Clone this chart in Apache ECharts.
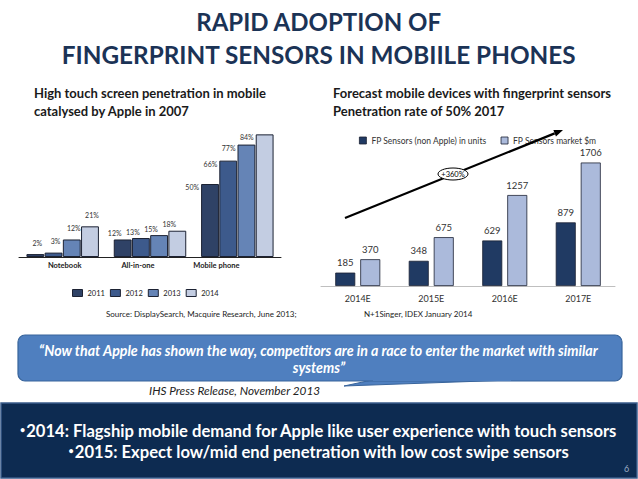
<!DOCTYPE html>
<html>
<head>
<meta charset="utf-8">
<script src="https://cdn.jsdelivr.net/npm/echarts@6/dist/echarts.min.js"></script>
<style>
html,body{margin:0;padding:0;background:#fff;}
#main{width:638px;height:479px;}
</style>
</head>
<body>
<div id="main"></div>
<script>
// ---- Left chart data (touch screen penetration, %) ----
const leftCategories = ['Notebook', 'All-in-one', 'Mobile phone'];
const leftYears = ['2011', '2012', '2013', '2014'];
const pen2011 = [2, 12, 50];
const pen2012 = [3, 13, 66];
const pen2013 = [12, 15, 77];
const pen2014 = [21, 18, 84];

// ---- Right chart data ----
const rightCategories = ['2014E', '2015E', '2016E', '2017E'];
const fpUnitsName = 'FP Sensors (non Apple) in units';
const fpMarketName = 'FP Sensors market $m';
const fpUnits = [185, 348, 629, 879];
const fpMarket = [370, 675, 1257, 1706];

const FONT = 'Lato, "Open Sans", sans-serif';
const leftColors = ['#2f4266', '#3d5a8c', '#6584b6', '#c3cde2'];
const leftValues = [pen2011, pen2012, pen2013, pen2014];

// label placement per category (styling only)
const leftLabelStyle = [
  { position: 'top', offset: [2, -3] },
  { position: 'top', offset: [-8, 2] },
  { position: [-2, 3], align: 'right', verticalAlign: 'middle' }
];

const leftSeries = leftYears.map((yr, si) => ({
  name: yr,
  type: 'bar',
  xAxisIndex: 0,
  yAxisIndex: 0,
  barGap: '2%',
  barCategoryGap: '17%',
  itemStyle: { color: leftColors[si], borderColor: '#1c2233', borderWidth: 1 },
  data: leftValues[si].map((v, ci) => ({
    value: v,
    label: Object.assign({ show: true, formatter: '{c}%', fontSize: 7, color: '#333', fontFamily: FONT }, leftLabelStyle[ci])
  }))
}));

const rightSeries = [
  { name: fpUnitsName, data: fpUnits, color: '#203a63' },
  { name: fpMarketName, data: fpMarket, color: '#abbadb' }
].map(s => ({
  name: s.name,
  type: 'bar',
  xAxisIndex: 1,
  yAxisIndex: 1,
  barWidth: 20,
  barGap: '25%',
  itemStyle: { color: s.color, borderColor: '#1c2233', borderWidth: 0.8 },
  label: { show: true, position: 'top', distance: 5, fontSize: 9.5, color: '#333', fontFamily: FONT },
  data: s.data
}));

// arrow annotation geometry
const aStart = [345, 218], aEnd = [563, 130];
const dx = aEnd[0] - aStart[0], dy = aEnd[1] - aStart[1];
const len = Math.sqrt(dx * dx + dy * dy);
const ux = dx / len, uy = dy / len, px = -uy, py = ux;
const hb = [aEnd[0] - 9 * ux, aEnd[1] - 9 * uy];
const head = [aEnd, [hb[0] + 3.5 * px, hb[1] + 3.5 * py], [hb[0] - 3.5 * px, hb[1] - 3.5 * py]];

const bulletRich = {
  d: { fontSize: 9, fontWeight: 'bold', fill: '#fff', fontFamily: FONT, verticalAlign: 'middle', padding: [0, 1, 2, 0] },
  t: { fontSize: 16.6, fontWeight: 'bold', fill: '#fff', fontFamily: FONT }
};

const chart = echarts.init(document.getElementById('main'), null, { renderer: 'svg', width: 638, height: 479 });

const option = {
  backgroundColor: '#ffffff',
  animation: false,
  textStyle: { fontFamily: FONT },
  grid: [
    { left: 19, top: 111, width: 262, height: 146 },
    { left: 321, top: 134, width: 294, height: 152 }
  ],
  xAxis: [
    {
      type: 'category', gridIndex: 0, data: leftCategories,
      axisLine: { lineStyle: { color: '#222', width: 1 } },
      axisTick: { show: false },
      axisLabel: {
        margin: 4, fontSize: 7.5, fontWeight: 'bold', color: '#222', fontFamily: FONT,
        formatter: (v, i) => ['{a|', '{b|', '{c|'][i] + v + '}',
        rich: {
          a: { fontSize: 7.5, fontWeight: 'bold', color: '#222', padding: [0, 0, 0, 4] },
          b: { fontSize: 7.5, fontWeight: 'bold', color: '#222', padding: [0, 24, 0, 0] },
          c: { fontSize: 7.5, fontWeight: 'bold', color: '#222', padding: [0, 42, 0, 0] }
        }
      }
    },
    {
      type: 'category', gridIndex: 1, data: rightCategories,
      axisLine: { lineStyle: { color: '#bfbfbf', width: 1 } },
      axisTick: { show: false },
      axisLabel: { margin: 8, fontSize: 9, color: '#333', fontFamily: FONT }
    }
  ],
  yAxis: [
    { type: 'value', gridIndex: 0, min: 0, max: 100, show: false },
    { type: 'value', gridIndex: 1, min: 0, max: 2100, show: false }
  ],
  legend: [
    {
      data: leftYears, left: 67, top: 284, itemWidth: 10, itemHeight: 7, itemGap: 5,
      icon: 'rect', textStyle: { fontSize: 7.5, color: '#222', fontFamily: FONT },
      itemStyle: { borderColor: '#1c2233', borderWidth: 1 }
    },
    {
      data: [fpUnitsName, fpMarketName], left: 354, top: 131, itemWidth: 7, itemHeight: 7, itemGap: 14,
      icon: 'rect', textStyle: { fontSize: 8.5, color: '#333', fontFamily: FONT },
      itemStyle: { borderColor: '#1c2233', borderWidth: 0.8 }
    }
  ],
  series: leftSeries.concat(rightSeries),
  graphic: [
    // Titles
    { type: 'text', left: 'center', top: 9, style: { text: 'RAPID ADOPTION OF', fontSize: 24, fontWeight: 'bold', fill: '#1b3356', fontFamily: FONT } },
    { type: 'text', left: 'center', top: 42, style: { text: 'FINGERPRINT SENSORS IN MOBIILE PHONES', fontSize: 24.3, fontWeight: 'bold', fill: '#1b3356', fontFamily: FONT } },
    // Subtitles
    { type: 'text', x: 34, y: 84, style: { text: 'High touch screen penetration in mobile\ncatalysed by Apple in 2007', fontSize: 13, lineHeight: 18, fontWeight: 'bold', fill: '#1a1a1a', fontFamily: FONT } },
    { type: 'text', x: 333, y: 84, style: { text: 'Forecast mobile devices with fingerprint sensors\nPenetration rate of 50% 2017', fontSize: 13, lineHeight: 18, fontWeight: 'bold', fill: '#1a1a1a', fontFamily: FONT } },
    // arrow annotation
    { type: 'line', shape: { x1: aStart[0], y1: aStart[1], x2: hb[0], y2: hb[1] }, style: { stroke: '#000', lineWidth: 2.2 }, z: 100 },
    { type: 'polygon', shape: { points: head }, style: { fill: '#000' }, z: 100 },
    { type: 'ellipse', shape: { cx: 453, cy: 174, rx: 15, ry: 6 }, style: { fill: '#fff', stroke: '#000', lineWidth: 1 }, z: 101 },
    { type: 'text', x: 453, y: 174, style: { text: '+360%', fontSize: 7.5, fill: '#000', align: 'center', verticalAlign: 'middle', fontFamily: FONT }, z: 102 },
    // sources
    { type: 'text', x: 106, y: 310, style: { text: 'Source: DisplaySearch, Macquire Research, June 2013;', fontSize: 8, fill: '#222', fontFamily: FONT } },
    { type: 'text', x: 364, y: 310, style: { text: 'N+1Singer, IDEX January 2014', fontSize: 8, fill: '#222', fontFamily: FONT } },
    // callout
    { type: 'polygon', shape: { points: [[372, 380], [344, 386], [512, 380]] }, style: { fill: '#4f7fbf', stroke: '#38649b', lineWidth: 1 } },
    { type: 'rect', shape: { x: 18, y: 335, width: 604, height: 46, r: 7 }, style: { fill: '#4f7fbf', stroke: '#38649b', lineWidth: 1.2 } },
    { type: 'rect', shape: { x: 373, y: 379, width: 138, height: 2 }, style: { fill: '#4f7fbf' } },
    { type: 'text', left: 'center', top: 343, style: { text: '\u201cNow that Apple has shown the way, competitors are in a race to enter the market with similar', fontSize: 14.2, fontWeight: 'bold', fontStyle: 'italic', fill: '#fff', fontFamily: FONT } },
    { type: 'text', left: 'center', top: 360, style: { text: 'systems\u201d', fontSize: 14.2, fontWeight: 'bold', fontStyle: 'italic', fill: '#fff', fontFamily: FONT } },
    { type: 'text', x: 149, y: 384, style: { text: 'IHS Press Release, November 2013', fontSize: 11.8, fontStyle: 'italic', fill: '#222', fontFamily: FONT } },
    // bottom banner
    { type: 'rect', shape: { x: 1, y: 403, width: 636, height: 75 }, style: { fill: '#0d2b51', stroke: '#3a5c8a', lineWidth: 1.5 } },
    { type: 'text', left: 'center', top: 422, style: { text: '{d|\u2022}{t|2014: Flagship mobile demand for Apple like user experience with touch sensors}', rich: bulletRich } },
    { type: 'text', left: 'center', top: 443, style: { text: '{d|\u2022}{t|2015: Expect low/mid end penetration with low cost swipe sensors}', rich: bulletRich } },
    { type: 'text', x: 624, y: 464, style: { text: '6', fontSize: 9, fill: '#9aabc4', fontFamily: FONT } }
  ]
};
chart.setOption(option);
</script>
</body>
</html>
